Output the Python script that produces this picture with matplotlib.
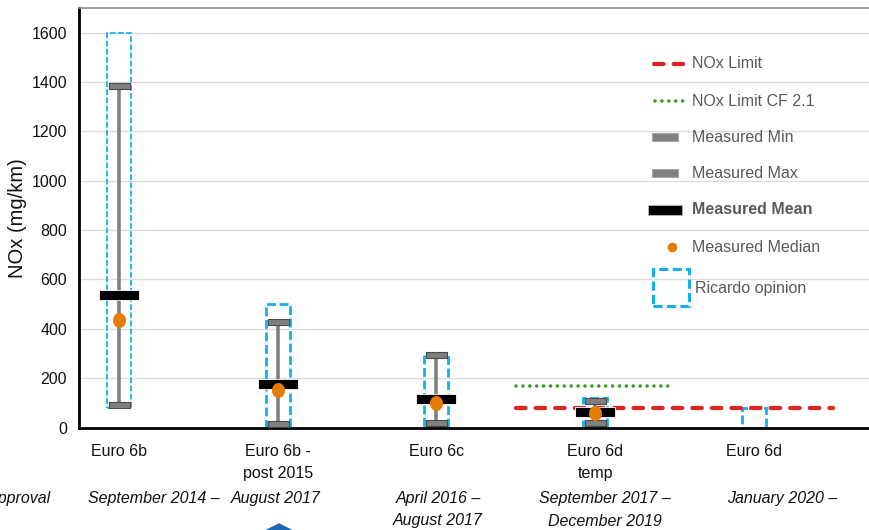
import matplotlib
matplotlib.use('Agg')
import matplotlib.pyplot as plt
import numpy as np
from matplotlib.path import Path
from matplotlib.patches import Rectangle, Polygon
from matplotlib.lines import Line2D
from matplotlib.transforms import blended_transform_factory

plt.rcParams['font.family'] = ['Liberation Sans', 'DejaVu Sans']

# ---------------- data ----------------
categories = ["Euro 6b", "Euro 6b -\npost 2015", "Euro 6c", "Euro 6d\ntemp", "Euro 6d"]
measured_min = [90, 15, 17, 19, np.nan]
measured_max = [1383, 427, 292, 108, np.nan]
measured_mean = [538, 176, 114, 62, np.nan]
measured_median = [434, 153, 99, 60, np.nan]
ricardo_low = [78, 0, 0, 0, 0]
ricardo_high = [1600, 500, 300, 120, 80]
nox_limit = [np.nan, np.nan, np.nan, 80, 80]
nox_limit_cf = [np.nan, np.nan, np.nan, 168, np.nan]
date_line1 = ["September 2014 –", "August 2017", "April 2016 –", "September 2017 –", "January 2020 –"]
date_line2 = ["", "", "August 2017", "December 2019", ""]
yticks = [0, 200, 400, 600, 800, 1000, 1200, 1400, 1600]

# ---------------- layout / style ----------------
W, H = 869, 530
date_x = [0.22, 0.99, 2.01, 3.06, 4.18]
box_lw = [1.3, 2.0, 2.0, 2.0, 2.0]

RED = '#E02424'
GREEN = '#3C9B28'
GRAY = '#808080'
BLUE = '#12B0EE'
ORANGE = '#E57C05'
TXT = '#595959'

fig = plt.figure(figsize=(W / 100, H / 100), dpi=100)
ax = fig.add_axes([79 / W, 1 - 427.5 / H, (W - 79) / W, (427.5 - 8) / H])
ax.set_xlim(-0.252, 4.726)
ax.set_ylim(0, 1700)

ax.spines['right'].set_visible(False)
ax.spines['top'].set_color('#8c8c8c')
ax.spines['top'].set_linewidth(1.2)
ax.spines['left'].set_linewidth(2.0)
ax.spines['bottom'].set_linewidth(2.0)

ax.set_yticks(yticks)
ax.set_yticklabels([str(v) for v in yticks], fontsize=11.5, color='#111111')
ax.tick_params(axis='y', length=0, pad=8.5)
ax.set_xticks(range(len(categories)))
ax.set_xticklabels(categories, fontsize=11.5, color='#111111', linespacing=1.55)
ax.tick_params(axis='x', length=0, pad=12)
for v in yticks[1:]:
    ax.axhline(v, color='#dcdcdc', lw=1.0, zorder=0)

ax.set_ylabel('NOx (mg/km)', fontsize=14.5, color='#111111')
ax.yaxis.set_label_coords((27 - 79) / (W - 79), 0.5)

x = np.arange(len(categories))

# Ricardo opinion boxes
for i in x:
    lo, hi = ricardo_low[i], ricardo_high[i]
    ax.add_patch(Rectangle((i - 0.075, lo), 0.15, hi - lo, fill=False,
                           edgecolor=BLUE, lw=box_lw[i], ls=(0, (3.2, 1.3)), zorder=2))

# limit lines
def runs(vals):
    idx = [i for i, v in enumerate(vals) if not np.isnan(v)]
    return min(idx), max(idx), vals[idx[0]]

a, b, v = runs(nox_limit)
ax.plot([a - 0.5, b + 0.5], [v, v], color=RED, lw=3.0, dashes=(2.3, 2.4),
        dash_capstyle='round', zorder=3)
a, b, v = runs(nox_limit_cf)
ax.plot([a - 0.5, b + 0.5], [v, v], color=GREEN, lw=2.6, dashes=(0.01, 1.9),
        dash_capstyle='round', zorder=3)

# whiskers
ax.vlines(x, measured_min, measured_max, color=GRAY, lw=2.6, zorder=4)

def rect_marker(w, h):
    r = h / w
    return Path([(-1, -r), (1, -r), (1, r), (-1, r), (-1, -r)],
                [Path.MOVETO, Path.LINETO, Path.LINETO, Path.LINETO, Path.CLOSEPOLY])

cap = rect_marker(21, 6)
ax.plot(x, measured_min, ls='none', marker=cap, markersize=21 * 0.72,
        mfc=GRAY, mec='#4a4a4a', mew=0.8, zorder=5)
ax.plot(x, measured_max, ls='none', marker=cap, markersize=21 * 0.72,
        mfc=GRAY, mec='#4a4a4a', mew=0.8, zorder=5)

meanm = rect_marker(40, 11)
ax.plot(x, measured_mean, ls='none', marker=meanm, markersize=40 * 0.72,
        mfc='black', mec='white', mew=0.6, zorder=6)

t = np.linspace(0, 2 * np.pi, 60)
ell = Path(np.column_stack([np.cos(t) * 13 / 15, np.sin(t)]))
ax.plot(x, measured_median, ls='none', marker=ell, markersize=15 * 0.72,
        mfc=ORANGE, mec='none', zorder=7)

# date labels
tr = blended_transform_factory(ax.transData, fig.transFigure)
for i in x:
    ax.text(date_x[i], 1 - 498 / H, date_line1[i], transform=tr, ha='center', va='center',
            fontsize=11.5, style='italic', color='#111111')
    if date_line2[i]:
        ax.text(date_x[i], 1 - 521 / H, date_line2[i], transform=tr, ha='center', va='center',
                fontsize=11.5, style='italic', color='#111111')
fig.text(50 / W, 1 - 498 / H, 'Type approval', ha='right', va='center',
         fontsize=11.5, style='italic', color='#111111')
fig.add_artist(Polygon([(279 / W, 1 - 524 / H), (303 / W, 1 - 536 / H),
                        (279 / W, 1 - 548 / H), (255 / W, 1 - 536 / H)],
                       closed=True, transform=fig.transFigure, color='#1f66b0'))

# manual legend
def P(px, py):
    return px / W, 1 - py / H

ft = fig.transFigure
legend_text = [("NOx Limit", 64, 'normal'), ("NOx Limit CF 2.1", 101, 'normal'),
               ("Measured Min", 137, 'normal'), ("Measured Max", 173, 'normal'),
               ("Measured Mean", 210, 'bold'), ("Measured Median", 247, 'normal'),
               ("Ricardo opinion", 288, 'normal')]
for i, (lab, yy, wt) in enumerate(legend_text):
    xx = 695 if lab.startswith('Ricardo') else 692
    fig.text(*P(xx, yy), lab, ha='left', va='center', fontsize=11.5,
             color=TXT, weight=wt)

fig.add_artist(Line2D([654 / W, 688 / W], [P(0, 64)[1]] * 2, transform=ft, color=RED,
                      lw=3.0, dashes=(2.3, 2.4), dash_capstyle='round'))
fig.add_artist(Line2D([655 / W, 688 / W], [P(0, 101)[1]] * 2, transform=ft, color=GREEN,
                      lw=2.6, dashes=(0.01, 1.9), dash_capstyle='round'))
for yy in (137, 173):
    x0, y0 = P(652, yy + 4)
    fig.add_artist(Rectangle((x0, y0), 26 / W, 8 / H, transform=ft, facecolor=GRAY,
                             edgecolor='#a6a6a6', lw=0.8))
x0, y0 = P(648, 215)
fig.add_artist(Rectangle((x0, y0), 34 / W, 10 / H, transform=ft, facecolor='black',
                         edgecolor='#bbbbbb', lw=0.6))
fig.add_artist(Line2D([672 / W], [P(0, 247)[1]], transform=ft, marker='o', markersize=7,
                      mfc=ORANGE, mec='none', ls='none'))
x0, y0 = P(653, 306)
fig.add_artist(Rectangle((x0, y0), 36 / W, 37 / H, transform=ft, fill=False,
                         edgecolor=BLUE, lw=2.2, ls=(0, (3.0, 1.4))))

fig.savefig('out.png', dpi=100)
